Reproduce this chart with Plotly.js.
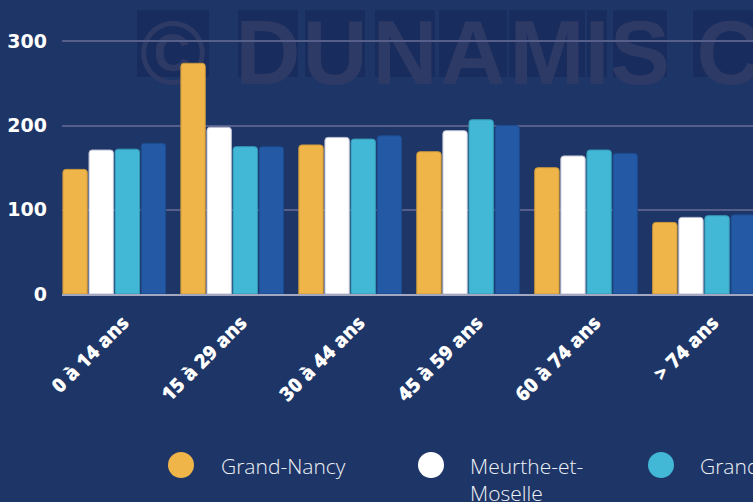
<!DOCTYPE html>
<html>
<head>
<meta charset="utf-8">
<script src="https://cdn.plot.ly/plotly-3.0.1.min.js"></script>
<style>
  html, body { margin: 0; padding: 0; background: #1e3667; overflow: hidden; width: 753px; height: 502px; }
  #chart { width: 783px; height: 502px; }
</style>
</head>
<body>
<div id="chart"></div>
<script>
// ---- Data ----
const categories = ["0 à 14 ans", "15 à 29 ans", "30 à 44 ans", "45 à 59 ans", "60 à 74 ans", "> 74 ans"];
const seriesNames = ["Grand-Nancy", "Meurthe-et-Moselle", "Grand Est", "France"];
const grandNancy = [148, 274, 177, 169, 150, 85];
const meurtheEtMoselle = [171, 198, 186, 194, 164, 91];
const grandEst = [172, 175, 184, 207, 171, 93];
const france = [179, 175, 188, 200, 167, 94];
const yTicks = [0, 100, 200, 300];
const watermarkLetters = ["©", "D", "U", "N", "A", "M", "I", "S", "C"];

// ---- Styles / layout ----
const colors = ["#f0b548", "#ffffff", "#42b7d6", "#2359a5"];
const edgeColors = ["#c9973c", "#b9bdd0", "#3598b5", "#1c4a8c"];
const bg = "#1e3667";
const L = 62, W = 701, T = 0, H = 294, FULLW = 783, FULLH = 502;
const px = x => (x - L) / W;
const py = y => (T + H - y) / H;

const seriesValues = [grandNancy, meurtheEtMoselle, grandEst, france];

const traces = seriesValues.map((vals, i) => ({
  type: "bar",
  name: seriesNames[i],
  x: categories,
  y: vals,
  marker: { color: colors[i], line: { color: edgeColors[i], width: 1 }, cornerradius: 3 },
  showlegend: false,
  hoverinfo: "x+y+name"
}));

// watermark letter boxes (pixel positions)
const wmBoxes = [[137, 209], [238, 298], [305, 365], [375, 435], [439, 507], [509, 585], [587, 607], [613, 667], [693, 765]];
const shapes = [];
wmBoxes.forEach((b, i) => {
  shapes.push({
    type: "rect", xref: "paper", yref: "paper", layer: "below",
    x0: px(b[0]), x1: px(b[1]), y0: py(77), y1: py(10),
    fillcolor: "#182c5d", line: { width: 0 },
    label: {
      text: watermarkLetters[i],
      textposition: "middle center",
      font: { family: "Liberation Sans", weight: "bold", size: 90, color: "#2e3a66" }
    }
  });
});

// legend (manual)
const legendCircleX = [181, 431, 661, 891];
const legendTextX = [219, 468, 698, 930];
const legendY = 465;
const legendLabels = ["Grand-Nancy", "Meurthe-et-<br>Moselle", "Grand Est", "France"];
const annotations = [];
seriesNames.forEach((n, i) => {
  shapes.push({
    type: "circle", xref: "paper", yref: "paper",
    xsizemode: "pixel", ysizemode: "pixel",
    xanchor: px(legendCircleX[i]), yanchor: py(legendY),
    x0: -13, x1: 13, y0: -13, y1: 13,
    fillcolor: colors[i], line: { width: 0 }
  });
  annotations.push({
    xref: "paper", yref: "paper",
    x: px(legendTextX[i]), y: py(legendY - 15),
    xanchor: "left", yanchor: "top", align: "left",
    text: legendLabels[i], showarrow: false,
    font: { family: "Open Sans", weight: 300, size: 21, color: "#eef1f7" }
  });
});

const layout = {
  width: FULLW, height: FULLH,
  margin: { l: L, r: FULLW - L - W, t: T, b: FULLH - T - H },
  paper_bgcolor: bg, plot_bgcolor: "rgba(0,0,0,0)",
  barmode: "group", bargap: 0.115, bargroupgap: 0.065,
  showlegend: false,
  xaxis: {
    range: [-0.443, 5.5], type: "category",
    tickangle: -45, ticks: "",
    ticklabelstandoff: 7, ticklabelshift: 9,
    tickfont: { family: "Open Sans", weight: 800, size: 20, color: "#ffffff" },
    showline: true, linecolor: "#a3a8c0", linewidth: 2,
    showgrid: false, zeroline: false, fixedrange: true
  },
  yaxis: {
    range: [0, 349.2], tickvals: yTicks, ticktext: yTicks.map(String),
    ticks: "", ticklabelstandoff: 14,
    tickfont: { family: "DejaVu Sans", weight: "bold", size: 19, color: "#ffffff" },
    showgrid: true, gridcolor: "#565f8a", gridwidth: 1.5,
    zeroline: false, showline: false, fixedrange: true
  },
  shapes: shapes,
  annotations: annotations
};

Plotly.newPlot("chart", traces, layout, { displayModeBar: false, responsive: false, staticPlot: false });
</script>
</body>
</html>
